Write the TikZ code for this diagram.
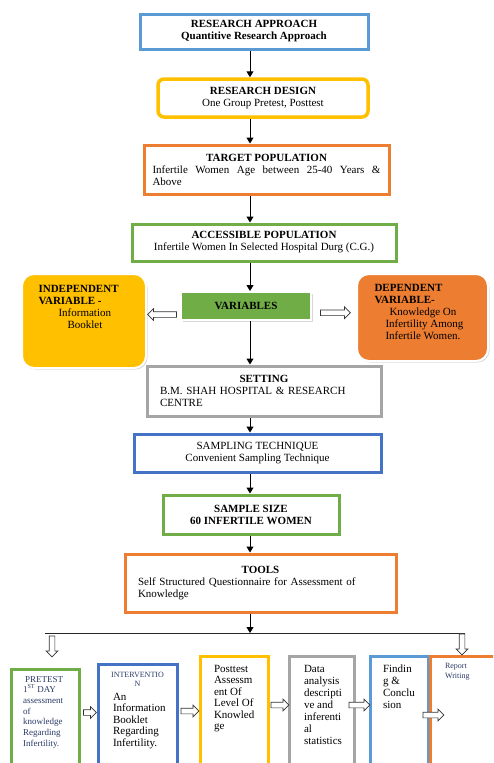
\documentclass[tikz,border=0pt]{standalone}
\usepackage{fontspec}
\setmainfont{Liberation Serif}
\usetikzlibrary{arrows.meta, positioning, calc, shapes.arrows, shadows}
\definecolor{colBlueL}{HTML}{5B9BD5}
\definecolor{colBlue}{HTML}{4472C4}
\definecolor{colYellow}{HTML}{FFC000}
\definecolor{colOrange}{HTML}{ED7D31}
\definecolor{colGreen}{HTML}{70AD47}
\definecolor{colGray}{HTML}{A5A5A5}
\definecolor{colNavy}{HTML}{2B3A67}

\begin{document}
\begin{tikzpicture}[x=1pt, y=-1pt,
    every node/.style={font=\fontsize{11}{12}\selectfont},
    box/.style={draw, line width=3pt, fill=white, inner sep=0pt},
    varbox/.style={draw=white, line width=2pt, rounded corners=12pt,
        drop shadow={shadow xshift=1.5pt, shadow yshift=-1.5pt, fill=black!30}},
    arr/.style={-{Triangle[length=6pt,width=7pt]}, line width=1pt},
    hollow/.style={single arrow, draw=black!80, line width=0.7pt, fill=white,
        inner sep=2.5pt, minimum width=11pt, single arrow head extend=3pt},
    small/.style={font=\fontsize{9}{10.7}\selectfont, text=colNavy},
    big/.style={font=\fontsize{11}{11.5}\selectfont}]
    \clip (0,0) rectangle (493,763);

    % --- main column ---
    \node[box, draw=colBlueL, minimum width=228pt, minimum height=35pt, align=center] (appr) at (254,31.5)
        {\textbf{RESEARCH APPROACH}\\\textbf{Quantitive Research Approach}};
    \node[box, draw=colYellow, line width=3.5pt, rounded corners=6pt, minimum width=210pt, minimum height=38pt, align=center] (design) at (263,98)
        {\textbf{RESEARCH DESIGN}\\One Group Pretest, Posttest};
    \node[box, draw=colOrange, minimum width=245pt, minimum height=49pt, text width=228pt, align=justify] (target) at (266.5,169.5)
        {{\centering\textbf{TARGET POPULATION}\par}Infertile Women Age between 25-40 Years \&\linebreak Above};
    \node[box, draw=colGreen, minimum width=264pt, minimum height=37pt, align=center] (access) at (264,242.5)
        {\textbf{ACCESSIBLE POPULATION}\\Infertile Women In Selected Hospital Durg (C.G.)};

    % --- variables row ---
    \node[varbox, fill=colYellow, minimum width=124pt, minimum height=94pt] (indep) at (84,321) {};
    \node[anchor=north west, align=left] (indepT) at ($(indep.north west)+(14,9)$)
        {\textbf{INDEPENDENT}\\\textbf{VARIABLE -}\\\hspace*{20pt}Information\\\hspace*{29pt}Booklet};
    \node[varbox, fill=colGreen, rounded corners=0pt, minimum width=130pt, minimum height=28pt] (vars) at (246,306) {\textbf{VARIABLES}};
    \node[varbox, fill=colOrange, minimum width=131pt, minimum height=87pt] (dep) at (422.5,317.5) {};
    \node[anchor=north west, align=left] (depT) at ($(dep.north west)+(15,8)$)
        {\textbf{DEPENDENT}\\\textbf{VARIABLE-}\\\hspace*{15pt}Knowledge On\\\hspace*{11pt}Infertility Among\\\hspace*{11pt}Infertile Women.};

    \node[box, draw=colGray, minimum width=234pt, minimum height=50pt, text width=208pt, align=left] (setting) at (264,391)
        {{\centering\textbf{SETTING}\par}B.M. SHAH HOSPITAL \& RESEARCH\\CENTRE};
    \node[box, draw=colBlue, minimum width=247pt, minimum height=38pt, align=center] (sampling) at (257.5,453)
        {SAMPLING TECHNIQUE\\Convenient Sampling Technique};
    \node[box, draw=colGreen, minimum width=176pt, minimum height=39pt, align=center] (size) at (251,514.5)
        {\textbf{SAMPLE SIZE}\\\textbf{60 INFERTILE WOMEN}};
    \node[box, draw=colOrange, minimum width=271pt, minimum height=58pt, text width=245pt, align=left] (tools) at (260.5,583)
        {{\centering\textbf{TOOLS}\par}Self Structured Questionnaire for Assessment of\\Knowledge};

    % --- bottom row ---
    \node[box, draw=colGreen, minimum width=68pt, minimum height=110pt] (pre) at (45,724) {};
    \node[box, draw=colBlue, minimum width=79pt, minimum height=110pt] (interv) at (137.5,719) {};
    \node[box, draw=colYellow, minimum width=68pt, minimum height=110pt] (post) at (234,711) {};
    \node[box, draw=colGray, minimum width=65pt, minimum height=110pt] (data) at (321.5,711) {};
    \node[box, draw=colBlueL, minimum width=58pt, minimum height=110pt] (find) at (399,711) {};
    \node[box, draw=colOrange, minimum width=65pt, minimum height=110pt] (report) at (462.5,711) {};

    \node[small, anchor=north west, align=left] (preT) at ($(pre.north west)+(10,5)$)
        {\hspace*{2pt}PRETEST\\1\textsuperscript{ST} DAY\\assessment\\of\\knowledge\\Regarding\\Infertility.};
    \node[small, font=\fontsize{8}{9.5}\selectfont, anchor=north, align=center] (intervT) at ($(interv.north)+(0,6)$)
        {INTERVENTIO\\N};
    \node[big, anchor=north west, align=left] (intervB) at ($(interv.north west)+(13,27)$)
        {An\\Information\\Booklet\\Regarding\\Infertility.};
    \node[big, anchor=north west, align=left] (postT) at ($(post.north west)+(12,7)$)
        {Posttest\\Assessm\\ent Of\\Level Of\\Knowled\\ge};
    \node[big, font=\fontsize{11}{12}\selectfont, anchor=north west, align=left] (dataT) at ($(data.north west)+(13,7)$)
        {Data\\analysis\\descripti\\ve and\\inferenti\\al\\statistics};
    \node[big, font=\fontsize{11}{12}\selectfont, anchor=north west, align=left] (findT) at ($(find.north west)+(11,7)$)
        {Findin\\g \&\\Conclu\\sion};
    \node[small, font=\fontsize{8}{10}\selectfont, anchor=north west, align=left] (reportT) at ($(report.north west)+(13,5)$)
        {Report\\Writing};

    % --- connectors ---
    \coordinate (axis) at (250,0);
    \coordinate (brL) at (45,633);
    \coordinate (brR) at (465,633);
    \draw[arr] (appr.south -| axis) -- (design.north -| axis);
    \draw[arr] (design.south -| axis) -- (target.north -| axis);
    \draw[arr] (target.south -| axis) -- (access.north -| axis);
    \draw[arr] (access.south -| axis) -- (vars.north -| axis);
    \draw[arr] (vars.south -| axis) -- (setting.north -| axis);
    \draw[arr] (setting.south -| axis) -- (sampling.north -| axis);
    \draw[arr] (sampling.south -| axis) -- (size.north -| axis);
    \draw[arr] (size.south -| axis) -- (tools.north -| axis);
    \draw[black!85, line width=0.8pt] (brL) -- (brR);
    \draw[arr] (tools.south -| axis) -- (brL -| axis);

    \node[hollow, shape border rotate=180, minimum height=29pt] (h1) at ($(vars.west)!0.5!(indep.east)+(0,1)$) {};
    \node[hollow, minimum height=30pt] (h2) at ($(vars.east)!0.5!(dep.west)+(0,1)$) {};
    \node[hollow, shape border rotate=270, minimum height=21pt] (h3) at ($(brL)+(7,12)$) {};
    \node[hollow, shape border rotate=270, minimum height=21pt] (h4) at ($(brR)+(-3,10)$) {};
    \node[hollow, minimum height=13pt] (h5) at ($(pre.east)!0.5!(interv.west)+(0,-9)$) {};
    \node[hollow, minimum height=18pt] (h6) at ($(interv.east)!0.5!(post.west)+(0,-4)$) {};
    \node[hollow, minimum height=18pt] (h7) at ($(post.east)!0.5!(data.west)+(0,-6)$) {};
    \node[hollow, minimum height=21pt] (h8) at ($(data.east)!0.5!(find.west)+(-4,-6)$) {};
    \node[hollow, minimum height=21pt] (h9) at ($(find.east)!0.5!(report.west)+(3,4)$) {};
\end{tikzpicture}
\end{document}
